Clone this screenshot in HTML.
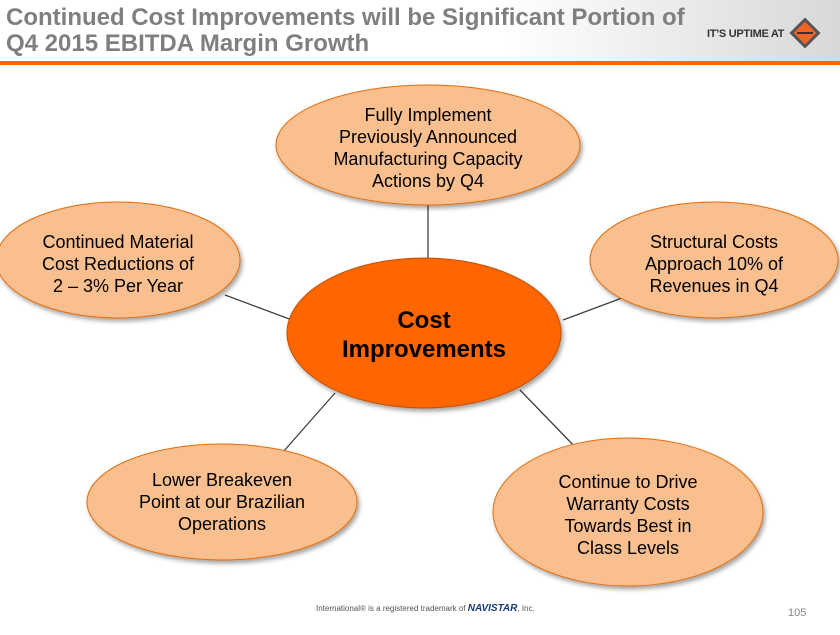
<!DOCTYPE html>
<html><head><style>
body{margin:0;width:840px;height:630px;overflow:hidden;background:#fff;font-family:"Liberation Sans",sans-serif;}
</style></head><body>
<svg width="840" height="630" viewBox="0 0 840 630" xmlns="http://www.w3.org/2000/svg">
<defs>
<linearGradient id="hg" x1="0" x2="1" y1="0" y2="0"><stop offset="0.6" stop-color="#fff"/><stop offset="1" stop-color="#d8d8d8"/></linearGradient>
<filter id="sh" x="-20%" y="-20%" width="140%" height="140%"><feDropShadow dx="2" dy="3" stdDeviation="2" flood-color="#000" flood-opacity="0.35"/></filter>
</defs>
<rect x="0" y="0" width="840" height="61" fill="url(#hg)"/>
<rect x="0" y="61" width="840" height="4" fill="#FF6600"/>
<text x="6" y="25" font-size="24" font-weight="bold" fill="#7f7f7f">Continued Cost Improvements will be Significant Portion of</text>
<text x="6" y="51" font-size="24" font-weight="bold" fill="#7f7f7f">Q4 2015 EBITDA Margin Growth</text>
<text x="707" y="37" font-size="11" font-weight="bold" fill="#333" letter-spacing="-0.3">IT’S UPTIME AT</text>
<g transform="translate(805,33) rotate(45)"><rect x="-11" y="-11" width="22" height="22" fill="#555"/><rect x="-8" y="-8" width="16" height="16" fill="#f26522"/></g>
<rect x="797" y="32" width="16" height="2" fill="#333"/>
<g stroke="#404040" stroke-width="1.3">
<line x1="428" y1="205" x2="428" y2="258"/>
<line x1="225" y1="295" x2="292" y2="320"/>
<line x1="563" y1="320" x2="630" y2="295"/>
<line x1="283" y1="452" x2="335" y2="393"/>
<line x1="578" y1="450" x2="520" y2="390"/>
</g>
<g fill="#F9BF8F" stroke="#E46C0A" stroke-width="1" filter="url(#sh)">
<ellipse cx="428" cy="145" rx="152" ry="60"/>
<ellipse cx="118" cy="260" rx="122" ry="58"/>
<ellipse cx="714" cy="260" rx="124" ry="58"/>
<ellipse cx="222" cy="502" rx="135" ry="58"/>
<ellipse cx="628" cy="512" rx="135" ry="74"/>
<ellipse cx="424" cy="333" rx="137" ry="75" fill="#FF6600" stroke="#c04f00"/>
</g>
<g font-size="18" fill="#000" text-anchor="middle">
<text x="428" y="121">Fully Implement</text>
<text x="428" y="143">Previously Announced</text>
<text x="428" y="165">Manufacturing Capacity</text>
<text x="428" y="187">Actions by Q4</text>
<text x="118" y="248">Continued Material</text>
<text x="118" y="270">Cost Reductions of</text>
<text x="118" y="292">2 – 3% Per Year</text>
<text x="714" y="248">Structural Costs</text>
<text x="714" y="270">Approach 10% of</text>
<text x="714" y="292">Revenues in Q4</text>
<text x="222" y="486">Lower Breakeven</text>
<text x="222" y="508">Point at our Brazilian</text>
<text x="222" y="530">Operations</text>
<text x="628" y="488">Continue to Drive</text>
<text x="628" y="510">Warranty Costs</text>
<text x="628" y="532">Towards Best in</text>
<text x="628" y="554">Class Levels</text>
<text x="424" y="328" font-size="24" font-weight="bold">Cost</text>
<text x="424" y="357" font-size="24" font-weight="bold">Improvements</text>
</g>
<text x="316" y="611" font-size="8" fill="#555">International® is a registered trademark of <tspan font-weight="bold" font-style="italic" font-size="10" fill="#1a3a7a">NAVISTAR</tspan>, Inc.</text>
<text x="788" y="616" font-size="11" fill="#888">105</text>
</svg>
</body></html>
